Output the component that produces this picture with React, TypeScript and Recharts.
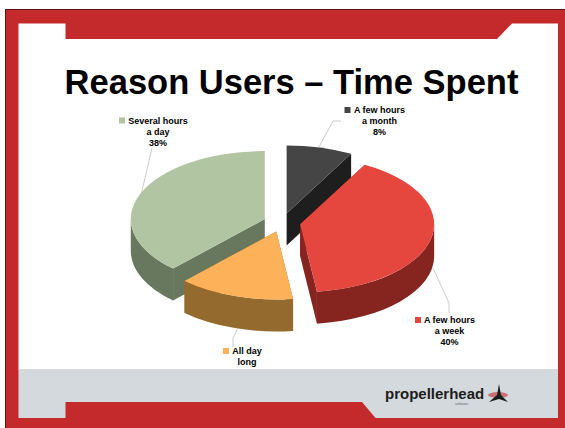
import { PieChart, Pie } from 'recharts';

// drawn back to front so the orange slice sits over the green wall
const categories = ['Several hours a day', 'A few hours a month', 'A few hours a week', 'All day long'];
const shares = [38, 8, 40, 14];
const topColors = ['#b1c5a3', '#454545', '#e5473f', '#fdb158'];
const wallColors = ['#67785f', '#1e1e1e', '#86251f', '#946a2e'];
const labelLines = [
  ['Several hours', 'a day', '38%'],
  ['A few hours', 'a month', '8%'],
  ['A few hours', 'a week', '40%'],
  ['All day', 'long'],
];
const labelSpots = [
  { x: 158, y: 120.5, swatch: 119 },
  { x: 379.5, y: 110, swatch: 344.5 },
  { x: 449.5, y: 320, swatch: 415 },
  { x: 247, y: 351, swatch: 223 },
];
const leaders = [
  '141,195 152,148',
  '319,147 333,121 341,121',
  '433,268 449,303 449,313',
  '238,328 233,338 233,347',
];

const chartData = categories.map((name, i) => ({
  name,
  value: shares[i],
  top: topColors[i],
  wall: wallColors[i],
}));

const TILT = 0.5075;
const DEPTH = 32;
const EXPLODE = 18.5;
const RAD = Math.PI / 180;
const SANS = "'Liberation Sans', Arial, sans-serif";

function Slice3D(props: any) {
  const { cx, cy, outerRadius, startAngle, endAngle } = props;
  const item = props.payload ?? props;
  const hi = Math.max(startAngle, endAngle);
  const lo = Math.min(startAngle, endAngle);
  const mid = (hi + lo) / 2;
  const ox = cx + EXPLODE * Math.cos(mid * RAD);
  const oy = cy - EXPLODE * TILT * Math.sin(mid * RAD);
  const rx = outerRadius;
  const ry = outerRadius * TILT;
  const pt = (a: number, d = 0) =>
    `${ox + rx * Math.cos(a * RAD)} ${oy - ry * Math.sin(a * RAD) + d}`;
  const large = hi - lo > 180 ? 1 : 0;

  // outer wall only shows on the front half of the ellipse
  const walls: string[] = [];
  for (let k = -3; k <= 1; k++) {
    const from = Math.min(hi, 360 * k);
    const to = Math.max(lo, 360 * k - 180);
    if (from > to) {
      walls.push(
        `M${pt(from)} A${rx} ${ry} 0 0 1 ${pt(to)} L${pt(to, DEPTH)} A${rx} ${ry} 0 0 0 ${pt(from, DEPTH)} Z`
      );
    }
  }
  const cut = (a: number) => `M${ox} ${oy} L${pt(a)} L${pt(a, DEPTH)} L${ox} ${oy + DEPTH} Z`;

  return (
    <g>
      <path d={cut(hi)} fill={item.wall} />
      <path d={cut(lo)} fill={item.wall} />
      {walls.map((d) => (
        <path key={d} d={d} fill={item.wall} />
      ))}
      <path
        d={`M${ox} ${oy} L${pt(hi)} A${rx} ${ry} 0 ${large} 1 ${pt(lo)} Z`}
        fill={item.top}
      />
    </g>
  );
}

function SliceLabel({ index }: any) {
  const spot = labelSpots[index];
  const lines = labelLines[index];
  return (
    <g>
      <polyline points={leaders[index]} fill="none" stroke="#b5b5b5" strokeWidth={0.7} />
      <rect x={spot.swatch} y={spot.y - 3} width={6} height={6} fill={topColors[index]} />
      {lines.map((t, i) => (
        <text
          key={i}
          x={spot.x}
          y={spot.y + i * 11 + 3.2}
          textAnchor="middle"
          fontFamily={SANS}
          fontWeight="bold"
          fontSize={9}
          fill="#000"
        >
          {t}
        </text>
      ))}
    </g>
  );
}

function Slide() {
  return (
    <svg width={565} height={428} style={{ position: 'absolute', left: 0, top: 0 }}>
      <rect width={565} height={428} fill="#fff" />
      <rect x={5.5} y={9.5} width={560} height={419} fill="#c4292c" stroke="#5a1517" strokeWidth={1} />
      <polygon points="18.5,23.5 65.5,23.5 65.5,39 497,39 512,23.5 558,23.5 558,370 18.5,370" fill="#fff" />
      <polygon points="18.5,369 558,369 558,418 375.5,418 362,402 65.5,402 65.5,418 18.5,418" fill="#d4d9dd" />
      <text x={291.5} y={94} textAnchor="middle" fontFamily={SANS} fontWeight="bold" fontSize={34.5} fill="#000">
        Reason Users – Time Spent
      </text>
      <text x={385} y={399} fontFamily={SANS} fontWeight="bold" fontSize={15} fill="#1c1c1c">
        propellerhead
      </text>
      <text x={455} y={405} fontFamily={SANS} fontSize={3.5} fill="#666">
        software
      </text>
      <ellipse cx={498} cy={395} rx={10} ry={3} fill="#c4292c" opacity={0.6} />
      <polygon points="499,384 501,395 508,402 499,399 489,402 497,395" fill="#1c1c1c" />
    </svg>
  );
}

export default function App() {
  return (
    <div style={{ position: 'absolute', left: 0, top: 0, width: 565, height: 428 }}>
      <Slide />
      <div style={{ position: 'absolute', left: 0, top: 0 }}>
        <PieChart width={565} height={428} margin={{ top: 0, right: 0, bottom: 0, left: 0 }}>
          <Pie
            data={chartData}
            dataKey="value"
            nameKey="name"
            cx={282}
            cy={222.5}
            outerRadius={134}
            startAngle={-133.2}
            endAngle={-493.2}
            stroke="none"
            shape={Slice3D}
            label={SliceLabel}
            labelLine={false}
            isAnimationActive={false}
          />
        </PieChart>
      </div>
    </div>
  );
}
